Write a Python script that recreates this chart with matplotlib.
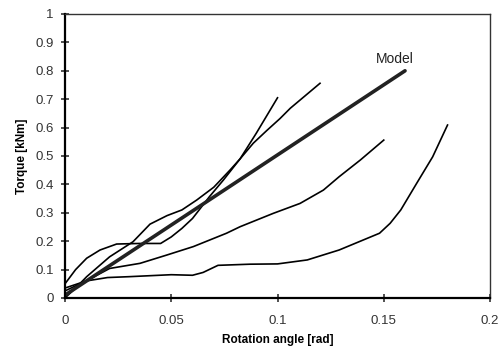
import matplotlib
matplotlib.use("Agg")
import matplotlib.pyplot as plt

# measured curves (rotation angle [rad], torque [kNm])
p_x = [0.0, 0.005, 0.0102, 0.0165, 0.0243, 0.035, 0.045, 0.05, 0.055, 0.06, 0.068, 0.0745, 0.0824, 0.09, 0.1]
p_y = [0.05, 0.10, 0.14, 0.169, 0.19, 0.192, 0.192, 0.215, 0.245, 0.28, 0.357, 0.415, 0.49, 0.58, 0.705]

q_x = [0.0, 0.005, 0.0102, 0.021, 0.032, 0.04, 0.048, 0.055, 0.062, 0.07, 0.0776, 0.0824, 0.0886, 0.0950, 0.1012, 0.106, 0.113, 0.12]
q_y = [0.0, 0.035, 0.075, 0.145, 0.198, 0.26, 0.29, 0.31, 0.345, 0.39, 0.45, 0.49, 0.545, 0.59, 0.632, 0.668, 0.712, 0.756]

c_x = [0.0, 0.01, 0.021, 0.0353, 0.0478, 0.0604, 0.076, 0.0824, 0.098, 0.1106, 0.1216, 0.129, 0.139, 0.15]
c_y = [0.025, 0.06, 0.104, 0.122, 0.151, 0.181, 0.228, 0.251, 0.298, 0.333, 0.38, 0.427, 0.486, 0.556]

d_x = [0.0, 0.01, 0.02, 0.03, 0.05, 0.06, 0.065, 0.072, 0.087, 0.1, 0.114, 0.129, 0.148, 0.153, 0.158, 0.1655, 0.173, 0.18]
d_y = [0.035, 0.06, 0.072, 0.075, 0.082, 0.08, 0.09, 0.115, 0.119, 0.12, 0.134, 0.169, 0.228, 0.263, 0.31, 0.404, 0.497, 0.609]

model_x = [0.0, 0.16]
model_y = [0.01, 0.80]

fig = plt.figure(figsize=(4.98, 3.48), dpi=100)
ax = fig.add_axes([0.1305, 0.1437, 0.8535, 0.8161])

for xs, ys in [(p_x, p_y), (q_x, q_y), (c_x, c_y), (d_x, d_y)]:
    ax.plot(xs, ys, color="black", lw=1.2)
ax.plot(model_x, model_y, color="#222222", lw=2.6, solid_capstyle="round")
ax.text(0.1553, 0.842, "Model", fontsize=10, ha="center", va="center",
        family="Liberation Sans", color="#222222")

ax.set_xlim(0, 0.2)
ax.set_ylim(0, 1)
ax.set_xticks([0, 0.05, 0.1, 0.15, 0.2])
ax.set_xticklabels(["0", "0.05", "0.1", "0.15", "0.2"])
ax.set_yticks([i / 10 for i in range(11)])
ax.set_yticklabels(["0"] + ["0.%d" % i for i in range(1, 10)] + ["1"])
ax.tick_params(direction="inout", length=6, width=1.2, labelsize=9.5, colors="#333333")
ax.tick_params(axis="x", pad=9)
ax.tick_params(axis="y", pad=5)
for lab in ax.get_xticklabels() + ax.get_yticklabels():
    lab.set_family("Liberation Sans")
for s in ["left", "bottom"]:
    ax.spines[s].set_linewidth(1.6)
for s in ["top", "right"]:
    ax.spines[s].set_linewidth(1.0)
    ax.spines[s].set_color("#333333")

ax.set_xlabel("Rotation angle [rad]", fontsize=8.5, fontweight="bold", family="Liberation Sans", labelpad=5)
ax.set_ylabel("Torque [kNm]", fontsize=8.5, fontweight="bold", family="Liberation Sans", labelpad=5)

fig.savefig("out.png", dpi=100)
